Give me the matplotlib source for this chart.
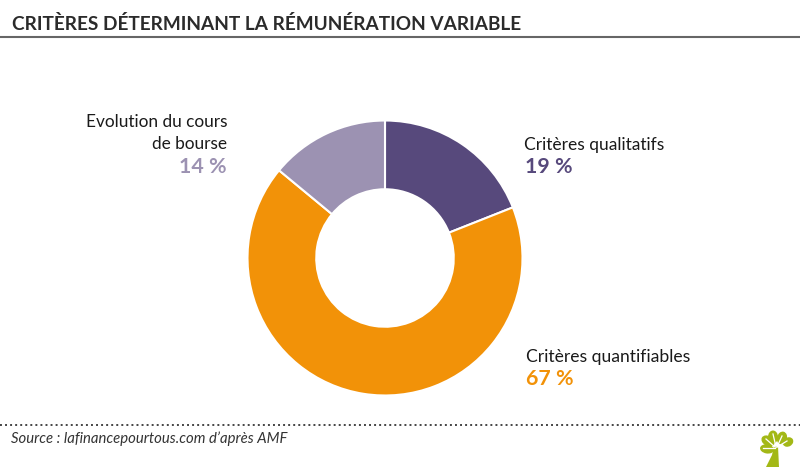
import matplotlib
matplotlib.use("Agg")
import matplotlib.pyplot as plt
from matplotlib.patches import Ellipse, Polygon

W, H = 800, 467

labels = ["Critères qualitatifs", "Critères quantifiables", "Evolution du cours\nde bourse"]
values = [19, 67, 14]
colors = ["#57497c", "#f29208", "#9c92b2"]

plt.rcParams['font.family'] = ['Lato', 'DejaVu Sans']

fig = plt.figure(figsize=(W / 100, H / 100), dpi=100, facecolor="white")

# background axes in pixel coordinates
bg = fig.add_axes([0, 0, 1, 1])
bg.set_xlim(0, W)
bg.set_ylim(H, 0)
bg.axis("off")

# donut
cx, cy, r = 385, 258, 137.5
ax = fig.add_axes([(cx - r) / W, 1 - (cy + r) / H, 2 * r / W, 2 * r / H])
ax.pie(values, colors=colors, startangle=90, counterclock=False, radius=1,
       wedgeprops=dict(width=0.5, edgecolor="white", linewidth=1.5))
ax.set_xlim(-1, 1)
ax.set_ylim(-1, 1)

# title and rules
bg.text(12, 24, "CRITÈRES DÉTERMINANT LA RÉMUNÉRATION VARIABLE", fontsize=13.66,
        color="#2b2b2b", fontweight="bold", va="center", ha="left")
bg.plot([0, W], [37, 37], color="#666666", lw=1.5)
bg.plot([0, W], [424.5, 424.5], color="#444444", lw=1.4, ls=(0, (1, 1.6)))
bg.text(11, 439, "Source : lafinancepourtous.com d’après AMF", fontsize=10.7, style="italic",
        color="#333333", va="center", ha="left")

# labels
bg.text(524, 145, labels[0], fontsize=12.5, color="#1a1a1a", va="center", ha="left")
bg.text(525, 167, f"{values[0]} %", fontsize=15.4, color=colors[0], fontweight="bold", va="center", ha="left")
bg.text(526, 357, labels[1], fontsize=12.6, color="#1a1a1a", va="center", ha="left")
bg.text(526, 379, f"{values[1]} %", fontsize=15.4, color=colors[1], fontweight="bold", va="center", ha="left")
bg.text(227, 122, "Evolution du cours", fontsize=12.4, color="#1a1a1a", va="center", ha="right")
bg.text(227, 144, "de bourse", fontsize=12.4, color="#1a1a1a", va="center", ha="right")
bg.text(227, 167, f"{values[2]} %", fontsize=15.4, color=colors[2], fontweight="bold", va="center", ha="right")

# tree logo
green = "#a3b816"
bg.add_patch(Polygon([(766, 467), (772, 455), (774, 446), (778, 446), (779, 467)], color=green, lw=0))
for x0, y0, w, h, a in [(767, 449, 14, 9, 10), (768, 441, 14, 10, 30), (773, 437, 10, 13, 0),
                        (782, 438, 10, 13, 15), (788, 442, 11, 9, -30)]:
    bg.add_patch(Ellipse((x0, y0), w, h, angle=a, color=green, lw=0))
for x0, y0, x1, y1 in [(775, 448, 763, 448), (775, 447, 766, 439), (776, 447, 773, 434),
                       (777, 447, 782, 436), (777, 447, 787, 441)]:
    bg.plot([x0, x1], [y0, y1], color="white", lw=0.9)

fig.savefig("out.png", dpi=100)
